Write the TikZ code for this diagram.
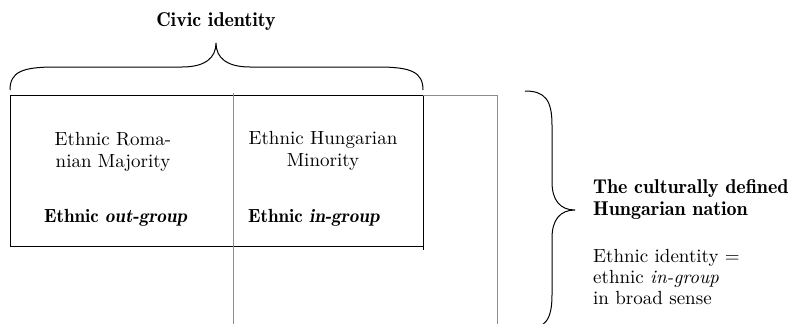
\documentclass[tikz,border=0pt]{standalone}
\usepackage{fontspec}
\setmainfont{lmroman10-regular.otf}[
  BoldFont=lmromandemi10-regular.otf,
  ItalicFont=lmroman10-italic.otf,
  BoldItalicFont=lmromandemi10-oblique.otf]
\begin{document}
\begin{tikzpicture}[x=1pt,y=-1pt,
  txt/.style={inner sep=0pt,anchor=base,font=\fontsize{19}{22}\selectfont},
  txtl/.style={txt,anchor=base west},
  bigb/.style={font=\fontsize{20}{22}\selectfont\bfseries},
  blk/.style={draw=black,line width=0.9pt},
  gry/.style={draw=black!45,line width=0.9pt},
  brc/.style={draw=black,line width=1pt}]
\useasboundingbox (0,0) rectangle (790,324);
% coordinates
\coordinate (bTL) at (10,95);
\coordinate (bTR) at (423,95);
\coordinate (bBL) at (10,246);
\coordinate (bBR) at (423,246);
\coordinate (bBRx) at (423,250);
\coordinate (gTop) at (233,93);
\coordinate (gBot) at (233,324);
\coordinate (gTR) at (497,95);
\coordinate (gBR) at (497,324);
% black box
\draw[blk] (bTL) -- (bTR);
\draw[blk] (bTL) -- (bBL) -- (bBR);
\draw[blk] (bTR) -- (bBRx);
% gray lines
\draw[gry] (gTop) -- (gBot);
\draw[gry] (bTR) -- (gTR) -- (gBR);
% top brace
\draw[brc] (10,90) .. controls (10,72) and (22,67) .. (55,67) -- (182,67)
  .. controls (205,67) and (216,58) .. (216,43)
  .. controls (216,58) and (227,67) .. (250,67) -- (378,67)
  .. controls (411,67) and (423,72) .. (423,90);
% right brace
\draw[brc] (525,91) .. controls (545,91) and (552,100) .. (552,125) -- (552,182)
  .. controls (552,200) and (560,210) .. (575,210)
  .. controls (560,210) and (552,220) .. (552,238) -- (552,295)
  .. controls (552,320) and (545,329) .. (525,329);
% texts
\node[txt,bigb] (civic) at (216,26) {Civic identity};
\node[txt] (rom1) at (113,145) {Ethnic Roma-};
\node[txt] (rom2) at (113,167) {nian Majority};
\node[txt] (hun1) at (323,144) {Ethnic Hungarian};
\node[txt] (hun2) at (323,166) {Minority};
\node[txtl] (out) at (44,222) {\bfseries Ethnic \textit{out-group}};
\node[txtl] (in) at (248,222) {\bfseries Ethnic \textit{in-group}};
\node[txtl,bigb] (cul1) at (593,193) {The culturally defined};
\node[txtl,bigb] (cul2) at (593,215) {Hungarian nation};
\node[txtl] (eth1) at (593,262) {Ethnic identity =};
\node[txtl] (eth2) at (593,283) {ethnic \textit{in-group}};
\node[txtl] (eth3) at (593,304) {in broad sense};
\end{tikzpicture}
\end{document}
